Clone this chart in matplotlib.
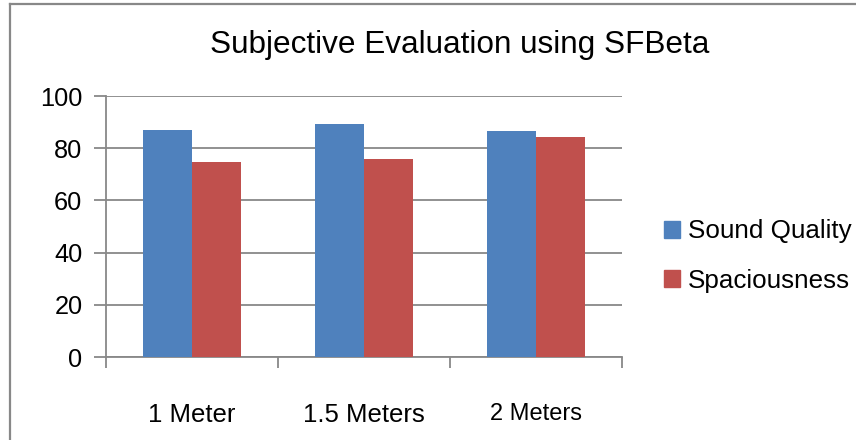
import matplotlib
matplotlib.use("Agg")
import matplotlib.pyplot as plt
import matplotlib.patches as mpatches
from matplotlib.lines import Line2D
import numpy as np

plt.rcParams['font.family'] = ['Liberation Sans', 'DejaVu Sans']

categories = ['1 Meter', '1.5 Meters', '2 Meters']
sound_quality = [86.8, 89.3, 86.4]
spaciousness = [74.6, 75.9, 84.4]
series_names = ['Sound Quality', 'Spaciousness']
colors = ['#4F81BD', '#C0504D']
yticks = [0, 20, 40, 60, 80, 100]

fig = plt.figure(figsize=(8.56, 4.40), dpi=100)
ax = fig.add_axes([106/856, 1-357/440, (622-106)/856, (357-96)/440])

x = np.arange(len(categories))
w = 1/3.5
ax.bar(x - w/2, sound_quality, w, color=colors[0], zorder=3)
ax.bar(x + w/2, spaciousness, w, color=colors[1], zorder=3)

ax.set_xlim(-0.5, len(categories) - 0.5)
ax.set_ylim(0, 100)
ax.set_yticks(yticks)
ax.set_yticklabels([str(v) for v in yticks], fontsize=18.3)
ax.yaxis.grid(True, color='#888888', linewidth=1.3, zorder=0)
ax.tick_params(axis='y', length=9, width=1.3, color='#888888', pad=8)

# category labels centred, tick marks at category boundaries
ax.set_xticks(x)
ax.set_xticklabels(categories)
for lbl, fs in zip(ax.get_xticklabels(), [18.5, 18.5, 17]):
    lbl.set_fontsize(fs)
ax.tick_params(axis='x', which='major', length=0, pad=33)
ax.set_xticks(np.arange(len(categories) + 1) - 0.5, minor=True)
ax.tick_params(axis='x', which='minor', length=8, width=1.3, color='#888888')

for s in ['top', 'right']:
    ax.spines[s].set_visible(False)
for s in ['left', 'bottom']:
    ax.spines[s].set_color('#888888')
    ax.spines[s].set_linewidth(1.3)

fig.text(460/856, 1-45/440, 'Subjective Evaluation using SFBeta',
         fontsize=22.7, ha='center', va='center')

handles = [mpatches.Patch(color=c) for c in colors]
fig.legend(handles, series_names, loc='center left',
           bbox_to_anchor=(664/856, 1-256/440), frameon=False,
           fontsize=18.7, handlelength=0.62, handleheight=0.62,
           handletextpad=0.3, labelspacing=0.98, borderpad=0, borderaxespad=0)

# chart area border (top and left edges visible)
fig.add_artist(Line2D([10/856, 10/856], [0, 1-4/440], color='#888888', linewidth=1.6))
fig.add_artist(Line2D([10/856, 1], [1-4/440, 1-4/440], color='#888888', linewidth=1.6))

fig.savefig('out.png', dpi=100)
